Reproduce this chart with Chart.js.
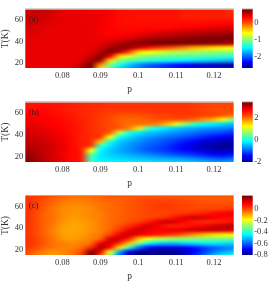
<!DOCTYPE html>
<html lang="en">
<head>
<meta charset="UTF-8">
<title>p-T maps</title>
<script src="https://cdn.jsdelivr.net/npm/chart.js"></script>
<style>
  html, body { margin: 0; padding: 0; background: #fff; overflow: hidden; }
  body { width: 273px; height: 290px; position: relative; }
  .panel { position: absolute; left: 0; width: 273px; }
  canvas { filter: blur(0.4px); }
</style>
</head>
<body>
<div class="panel" style="top:0;height:96px"><canvas id="chartA"></canvas></div>
<div class="panel" style="top:93px;height:97px"><canvas id="chartB"></canvas></div>
<div class="panel" style="top:187px;height:96px"><canvas id="chartC"></canvas></div>
<script>
  const pValues = [0.07, 0.0725, 0.075, 0.0775, 0.08, 0.0825, 0.085, 0.0875, 0.09, 0.0925, 0.095, 0.0975, 0.1, 0.1025, 0.105, 0.1075, 0.11, 0.1125, 0.115, 0.1175, 0.12, 0.1225, 0.125];
  const tValues = [70, 66, 62, 58, 54, 50, 46, 42, 38, 34, 30, 26, 22, 18, 14];
  const pTicks = [0.08, 0.09, 0.1, 0.11, 0.12];
  const tTicks = [20, 40, 60];
  const barTicksA = [0, -1, -2];
  const barTicksB = [2, 0, -2];
  const barTicksC = [0, -0.2, -0.4, -0.6, -0.8];

  // one row per entry of tValues
  const valuesA = [
    [.48,.48,.48,.44,.39,.38,.38,.37,.36,.34,.26,.24,.24,.24,.24,.24,.24,.18,.18,.18,.18,.18,.12],
    [.48,.48,.48,.44,.39,.38,.38,.37,.36,.34,.27,.25,.24,.24,.24,.24,.24,.18,.18,.18,.18,.18,.14],
    [.48,.48,.46,.42,.39,.38,.38,.37,.36,.32,.27,.25,.25,.25,.25,.25,.24,.20,.20,.20,.20,.20,.18],
    [.46,.46,.44,.41,.39,.38,.38,.37,.36,.32,.27,.26,.26,.26,.26,.26,.26,.26,.26,.26,.27,.28,.28],
    [.46,.44,.41,.39,.38,.38,.38,.37,.35,.31,.27,.27,.27,.27,.27,.28,.29,.30,.31,.33,.36,.38,.40],
    [.44,.42,.40,.38,.38,.38,.38,.37,.34,.31,.29,.29,.30,.32,.35,.38,.41,.44,.46,.48,.50,.52,.54],
    [.42,.40,.39,.38,.38,.38,.38,.37,.34,.32,.32,.35,.40,.45,.50,.53,.56,.58,.60,.62,.64,.65,.66],
    [.40,.39,.38,.38,.38,.38,.38,.37,.36,.38,.42,.48,.55,.60,.63,.66,.68,.70,.72,.74,.75,.75,.75],
    [.39,.38,.38,.38,.38,.38,.38,.38,.40,.47,.55,.62,.68,.72,.74,.74,.74,.72,.70,.68,.64,.60,.52],
    [.38,.38,.38,.38,.38,.38,.38,.39,.45,.60,.70,.62,.45,.25,.10,0,-.1,-.22,-.35,-.42,-.5,-.55,-.6],
    [.38,.38,.38,.38,.38,.38,.38,.41,.57,.72,.50,.05,-.45,-.62,-.68,-.78,-.85,-.88,-.9,-.93,-.95,-.97,-1.0],
    [.38,.38,.38,.38,.38,.38,.39,.48,.72,.35,-.45,-.75,-.9,-1.0,-1.05,-1.1,-1.12,-1.15,-1.18,-1.2,-1.22,-1.25,-1.28],
    [.38,.38,.38,.38,.38,.38,.41,.62,.6,-.45,-1.0,-1.15,-1.25,-1.32,-1.38,-1.42,-1.46,-1.5,-1.54,-1.58,-1.62,-1.65,-1.7],
    [.38,.38,.38,.38,.38,.39,.52,.75,-.2,-1.0,-1.35,-1.6,-1.8,-1.95,-2.05,-2.15,-2.25,-2.3,-2.4,-2.45,-2.5,-2.55,-2.6],
    [.38,.38,.38,.38,.38,.41,.57,.7,-.5,-1.2,-1.6,-1.8,-1.9,-2.0,-2.05,-2.1,-2.15,-2.2,-2.2,-2.2,-2.2,-2.2,-2.2]
  ];
  const valuesB = [
    [2.55,2.55,2.55,2.55,2.55,2.5,2.45,2.4,2.4,2.35,2.35,2.35,2.35,2.35,2.35,2.35,2.35,2.35,2.3,2.25,2.25,2.25,2.25],
    [2.6,2.6,2.6,2.6,2.55,2.5,2.45,2.4,2.4,2.35,2.35,2.35,2.35,2.35,2.35,2.35,2.35,2.35,2.3,2.25,2.2,2.2,2.2],
    [2.65,2.65,2.65,2.6,2.55,2.5,2.45,2.4,2.35,2.3,2.3,2.3,2.3,2.3,2.35,2.35,2.35,2.35,2.3,2.25,2.2,2.2,2.2],
    [2.7,2.7,2.7,2.65,2.6,2.55,2.45,2.4,2.3,2.25,2.15,2.15,2.15,2.2,2.25,2.25,2.3,2.3,2.3,2.25,2.2,2.1,2.0],
    [2.75,2.75,2.7,2.7,2.65,2.55,2.5,2.4,2.3,2.2,2.1,2.05,2.05,2.1,2.15,2.15,2.15,2.1,2.0,1.8,1.6,1.1,.6],
    [2.8,2.8,2.75,2.7,2.65,2.6,2.5,2.4,2.3,2.2,2.1,2.0,2.0,1.95,1.9,1.6,1.1,.6,.2,-.1,-.2,-.35,-.45],
    [2.85,2.85,2.8,2.75,2.7,2.6,2.5,2.4,2.3,2.2,2.1,1.9,1.4,.3,-.1,-.25,-.4,-.5,-.55,-.65,-.7,-.75,-.85],
    [2.9,2.9,2.85,2.8,2.7,2.6,2.5,2.4,2.3,2.1,.9,.1,-.2,-.4,-.5,-.6,-.7,-.8,-.9,-1.0,-1.05,-1.15,-1.2],
    [3.0,2.95,2.9,2.85,2.75,2.65,2.5,2.4,2.3,1.2,.0,-.3,-.5,-.65,-.75,-.85,-.95,-1.05,-1.15,-1.3,-1.4,-1.5,-1.55],
    [3.0,3.0,2.95,2.85,2.75,2.65,2.5,2.4,1.6,.1,-.35,-.55,-.7,-.85,-.95,-1.05,-1.2,-1.35,-1.5,-1.65,-1.75,-1.85,-1.85],
    [3.05,3.05,3.0,2.9,2.8,2.65,2.5,2.3,.2,-.2,-.5,-.65,-.8,-.95,-1.05,-1.2,-1.35,-1.5,-1.65,-1.8,-1.85,-1.95,-1.9],
    [3.15,3.1,3.0,2.9,2.8,2.65,2.5,1.24,-.1,-.4,-.55,-.7,-.85,-1.0,-1.1,-1.2,-1.35,-1.45,-1.6,-1.7,-1.8,-1.85,-1.75],
    [3.25,3.15,3.0,2.9,2.75,2.65,2.5,.5,-.2,-.35,-.45,-.55,-.65,-.75,-.85,-.95,-1.05,-1.15,-1.25,-1.35,-1.45,-1.5,-1.4],
    [3.35,3.2,3.05,2.9,2.8,2.65,2.5,.2,-.2,-.25,-.3,-.35,-.4,-.45,-.5,-.55,-.6,-.65,-.75,-.85,-.95,-1.0,-.9],
    [3.4,3.25,3.1,2.95,2.8,2.65,2.5,.4,0,-.05,-.1,-.1,-.15,-.15,-.2,-.2,-.25,-.3,-.35,-.4,-.5,-.55,-.5]
  ];
  const valuesC = [
    [.02,.01,0,-.02,-.03,-.04,-.04,-.04,-.03,-.02,-.02,-.02,-.02,-.02,-.02,-.02,-.02,-.02,-.02,-.02,-.02,-.02,-.02],
    [.03,.01,-.01,-.03,-.05,-.06,-.06,-.05,-.04,-.03,-.03,-.02,-.01,0,0,0,0,-.01,-.01,-.02,-.02,-.02,-.02],
    [.03,.01,-.02,-.04,-.06,-.07,-.07,-.06,-.05,-.04,-.03,-.02,-.01,0,.01,.01,0,0,-.01,-.01,-.01,-.01,-.01],
    [.03,.01,-.02,-.05,-.07,-.08,-.08,-.07,-.05,-.04,-.03,-.02,-.01,0,.01,.01,.01,0,0,0,0,.01,.02],
    [.03,0,-.03,-.05,-.07,-.08,-.08,-.07,-.06,-.04,-.03,-.02,-.01,0,0,0,.01,.02,.03,.05,.07,.09,.11],
    [.03,0,-.03,-.05,-.07,-.09,-.08,-.07,-.06,-.04,-.03,-.02,-.01,0,.01,.03,.07,.11,.13,.12,.10,.08,.07],
    [.03,0,-.03,-.05,-.08,-.095,-.09,-.08,-.06,-.04,-.03,-.01,.01,.05,.10,.14,.12,.08,.05,.04,.04,.05,.07],
    [.03,0,-.03,-.06,-.09,-.10,-.095,-.08,-.06,-.04,-.01,.03,.08,.13,.10,.06,.05,.06,.08,.10,.13,.15,.17],
    [.03,0,-.03,-.06,-.095,-.10,-.095,-.08,-.06,-.03,.02,.10,.14,.10,.09,.10,.11,.12,.13,.14,.14,.13,.12],
    [.03,0,-.03,-.06,-.09,-.10,-.09,-.07,-.05,0,.10,.14,.10,.07,.05,.03,0,-.04,-.08,-.12,-.15,-.17,-.18],
    [.03,.01,-.02,-.05,-.08,-.09,-.08,-.06,-.03,.12,.13,.05,-.12,-.2,-.25,-.27,-.29,-.3,-.31,-.31,-.32,-.32,-.33],
    [.03,.01,-.02,-.05,-.06,-.07,-.06,-.04,.10,.13,.03,-.12,-.3,-.42,-.48,-.5,-.5,-.48,-.47,-.46,-.46,-.47,-.48],
    [.02,0,-.03,-.05,-.06,-.06,-.04,.03,.17,.08,-.15,-.38,-.58,-.68,-.72,-.73,-.72,-.7,-.67,-.63,-.6,-.58,-.56],
    [0,-.03,-.06,-.08,-.07,-.05,-.01,.2,.1,-.2,-.52,-.72,-.8,-.8,-.8,-.8,-.79,-.76,-.7,-.64,-.58,-.53,-.5],
    [0,-.05,-.08,-.09,-.07,-.05,.02,.22,-.02,-.3,-.6,-.75,-.8,-.8,-.8,-.8,-.78,-.72,-.65,-.58,-.5,-.44,-.4]
  ];

  const serif = "'Liberation Serif', serif";
  const ink = '#333';

  // jet-like map, position on the bar against colour
  const colorStops = [
    [0, 0, 0, 140], [0.1, 0, 0, 255], [0.35, 0, 255, 255], [0.47, 120, 255, 130],
    [0.6, 255, 255, 0], [0.78, 255, 70, 0], [0.87, 255, 0, 0], [1, 120, 0, 0]
  ];

  function colorAt(f) {
    f = Math.min(1, Math.max(0, f));
    for (let i = 1; i < colorStops.length; i++) {
      const a = colorStops[i - 1], b = colorStops[i];
      if (f <= b[0]) {
        const t = (f - a[0]) / (b[0] - a[0]);
        return [a[1] + t * (b[1] - a[1]), a[2] + t * (b[2] - a[2]), a[3] + t * (b[3] - a[3])].map(Math.round);
      }
    }
    return colorStops[colorStops.length - 1].slice(1);
  }

  const heatPlugin = {
    id: 'heat',
    beforeDatasetsDraw(chart, args, opts) {
      const ctx = chart.ctx, area = chart.chartArea;
      const xs = chart.scales.x, ys = chart.scales.y, bar = chart.scales.bar;
      const points = chart.data.datasets[0].data;
      const cols = pValues.length, rows = tValues.length;

      // paint the grid one pixel per cell, then let the canvas smooth it onto the scales
      const off = document.createElement('canvas');
      off.width = cols;
      off.height = rows;
      const offCtx = off.getContext('2d');
      const img = offCtx.createImageData(cols, rows);
      points.forEach((pt, n) => {
        const c = colorAt((pt.v - bar.min) / (bar.max - bar.min));
        img.data.set([c[0], c[1], c[2], 255], n * 4);
      });
      offCtx.putImageData(img, 0, 0);

      const x0 = xs.getPixelForValue(pValues[0]), x1 = xs.getPixelForValue(pValues[cols - 1]);
      const y0 = ys.getPixelForValue(tValues[0]), y1 = ys.getPixelForValue(tValues[rows - 1]);
      const cw = (x1 - x0) / (cols - 1), ch = (y1 - y0) / (rows - 1);
      ctx.save();
      ctx.beginPath();
      ctx.rect(area.left, area.top, area.width, area.height);
      ctx.clip();
      ctx.imageSmoothingEnabled = true;
      ctx.imageSmoothingQuality = 'high';
      ctx.drawImage(off, x0 - cw / 2, y0 - ch / 2, cols * cw, rows * ch);
      ctx.restore();

      // colour bar, one line per pixel of its own scale
      for (let y = Math.floor(area.top); y < area.bottom; y++) {
        const c = colorAt((bar.getValueForPixel(y + 0.5) - bar.min) / (bar.max - bar.min));
        ctx.fillStyle = 'rgb(' + c.join(',') + ')';
        ctx.fillRect(242, y, 10.7, 1);
      }

      ctx.fillStyle = '#aaa';
      ctx.fillRect(area.left, area.top - 1, area.width, 1);
      ctx.fillRect(242, area.top - 1, 10.7, 1);

      ctx.fillStyle = '#222';
      ctx.font = '8.5px ' + serif;
      ctx.textBaseline = 'middle';
      ctx.fillText(opts.label, area.left + 3.5, area.top + 10);
    }
  };

  function makePanel(id, values, barTicks, barMin, barMax, label, padTop) {
    const points = [];
    tValues.forEach((t, j) => {
      pValues.forEach((p, i) => points.push({ x: p, y: t, v: values[j][i] }));
    });
    const tickFont = { family: serif, size: 8.5 };
    return new Chart(document.getElementById(id), {
      type: 'scatter',
      data: { datasets: [{ data: points, pointRadius: 0, showLine: false }] },
      plugins: [heatPlugin],
      options: {
        responsive: true,
        maintainAspectRatio: false,
        animation: false,
        layout: { padding: { top: padTop, left: 0, right: 0, bottom: 0 } },
        plugins: {
          legend: { display: false },
          tooltip: { enabled: false },
          heat: { label: label }
        },
        scales: {
          x: {
            type: 'linear', min: 0.0702, max: 0.1252,
            grid: { display: false, drawTicks: false }, border: { display: false },
            afterBuildTicks: s => { s.ticks = pTicks.map(v => ({ value: v })); },
            afterFit: s => { s.height = 28; },
            ticks: { color: ink, font: tickFont, padding: 3, maxRotation: 0, autoSkip: false, callback: v => String(v) },
            title: { display: true, text: 'p', color: ink, font: { family: serif, size: 9.5 }, padding: { top: 0, bottom: 1 } }
          },
          y: {
            type: 'linear', min: 15, max: 70,
            grid: { display: false, drawTicks: false }, border: { display: false },
            afterBuildTicks: s => { s.ticks = tTicks.map(v => ({ value: v })); },
            afterFit: s => { s.width = 25.3; s.paddingTop = 0; s.paddingBottom = 0; },
            ticks: { color: ink, font: tickFont, padding: 2, autoSkip: false, callback: v => String(v) },
            title: { display: true, text: 'T(K)', color: ink, font: { family: serif, size: 9.5 }, padding: { top: 0, bottom: 4 } }
          },
          bar: {
            type: 'linear', position: 'right', display: true, min: barMin, max: barMax,
            grid: { display: false, drawTicks: false }, border: { display: false },
            afterBuildTicks: s => { s.ticks = barTicks.map(v => ({ value: v })); },
            // the label gap would otherwise push the plot area down
            afterFit: s => { s.width = 39.3; s.paddingTop = 0; s.paddingBottom = 0; },
            ticks: { color: ink, font: tickFont, padding: 20.5, autoSkip: false, callback: v => String(v) }
          }
        }
      }
    });
  }

  makePanel('chartA', valuesA, barTicksA, -2.63, 0.75, '(a)', 9.5);
  makePanel('chartB', valuesB, barTicksB, -2, 3.4, '(b)', 9.4);
  makePanel('chartC', valuesC, barTicksC, -0.8, 0.22, '(c)', 9);
</script>
</body>
</html>
